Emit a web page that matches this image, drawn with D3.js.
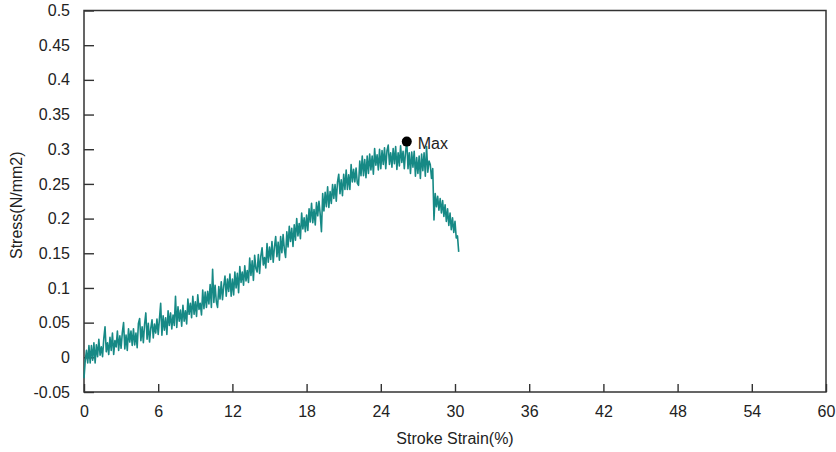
<!DOCTYPE html>
<html>
<head>
<meta charset="utf-8">
<script src="https://cdn.jsdelivr.net/npm/d3@7"></script>
<style>
  body { margin: 0; background: #fff; }
  svg text { font-family: "Liberation Sans", Arial, sans-serif; fill: #222; }
</style>
</head>
<body>
<div id="chart"></div>
<script>
// strain (%) samples
var strain = [
  0.0,0.1,0.2,0.3,0.4,0.5,0.6,0.7,0.8,0.9,
  1.0,1.1,1.2,1.3,1.4,1.5,1.6,1.7,1.8,1.9,
  2.0,2.1,2.2,2.3,2.4,2.5,2.6,2.7,2.8,2.9,
  3.0,3.1,3.2,3.3,3.4,3.5,3.6,3.7,3.8,3.9,
  4.0,4.1,4.2,4.3,4.4,4.5,4.6,4.7,4.8,4.9,
  5.0,5.1,5.2,5.3,5.4,5.5,5.6,5.7,5.8,5.9,
  6.0,6.1,6.2,6.3,6.4,6.5,6.6,6.7,6.8,6.9,
  7.0,7.1,7.2,7.3,7.4,7.5,7.6,7.7,7.8,7.9,
  8.0,8.1,8.2,8.3,8.4,8.5,8.6,8.7,8.8,8.9,
  9.0,9.1,9.2,9.3,9.4,9.5,9.6,9.7,9.8,9.9,
  10.0,10.1,10.2,10.3,10.4,10.5,10.6,10.7,10.8,10.9,
  11.0,11.1,11.2,11.3,11.4,11.5,11.6,11.7,11.8,11.9,
  12.0,12.1,12.2,12.3,12.4,12.5,12.6,12.7,12.8,12.9,
  13.0,13.1,13.2,13.3,13.4,13.5,13.6,13.7,13.8,13.9,
  14.0,14.1,14.2,14.3,14.4,14.5,14.6,14.7,14.8,14.9,
  15.0,15.1,15.2,15.3,15.4,15.5,15.6,15.7,15.8,15.9,
  16.0,16.1,16.2,16.3,16.4,16.5,16.6,16.7,16.8,16.9,
  17.0,17.1,17.2,17.3,17.4,17.5,17.6,17.7,17.8,17.9,
  18.0,18.1,18.2,18.3,18.4,18.5,18.6,18.7,18.8,18.9,
  19.0,19.1,19.2,19.3,19.4,19.5,19.6,19.7,19.8,19.9,
  20.0,20.1,20.2,20.3,20.4,20.5,20.6,20.7,20.8,20.9,
  21.0,21.1,21.2,21.3,21.4,21.5,21.6,21.7,21.8,21.9,
  22.0,22.1,22.2,22.3,22.4,22.5,22.6,22.7,22.8,22.9,
  23.0,23.1,23.2,23.3,23.4,23.5,23.6,23.7,23.8,23.9,
  24.0,24.1,24.2,24.3,24.4,24.5,24.6,24.7,24.8,24.9,
  25.0,25.1,25.2,25.3,25.4,25.5,25.6,25.7,25.8,25.9,
  26.0,26.1,26.2,26.3,26.4,26.5,26.6,26.7,26.8,26.9,
  27.0,27.1,27.2,27.3,27.4,27.5,27.6,27.7,27.8,27.9,
  28.0,28.1,28.2,28.3,28.4,28.5,28.6,28.7,28.8,28.9,
  29.0,29.1,29.2,29.3,29.4,29.5,29.6,29.7,29.8,29.9,
  30.0,30.1,30.2,30.3
];

// stress (N/mm2) at each strain sample
var stress = [
  -0.030,-0.005,0.010,-0.008,0.017,-0.008,0.017,-0.004,0.021,-0.008,
  0.018,0.001,0.026,0.003,0.015,0.001,0.027,0.044,0.008,0.021,
  0.004,0.029,0.010,0.035,0.004,0.024,0.015,0.038,0.010,0.031,
  0.013,0.036,0.050,0.012,0.032,0.010,0.041,0.022,0.038,0.017,
  0.041,0.018,0.035,0.014,0.049,0.056,0.024,0.044,0.021,0.048,
  0.064,0.026,0.049,0.022,0.042,0.054,0.028,0.048,0.035,0.055,
  0.033,0.055,0.078,0.032,0.060,0.039,0.057,0.033,0.067,0.046,
  0.064,0.041,0.061,0.046,0.088,0.043,0.073,0.052,0.068,0.045,
  0.075,0.052,0.067,0.048,0.084,0.062,0.078,0.057,0.088,0.062,
  0.080,0.059,0.090,0.069,0.078,0.061,0.097,0.070,0.094,0.072,
  0.095,0.077,0.105,0.072,0.127,0.079,0.104,0.080,0.072,0.102,
  0.084,0.109,0.083,0.103,0.117,0.088,0.113,0.095,0.120,0.088,
  0.113,0.090,0.123,0.100,0.121,0.093,0.131,0.108,0.123,0.104,
  0.132,0.110,0.125,0.108,0.143,0.118,0.139,0.111,0.147,0.128,
  0.123,0.148,0.121,0.146,0.158,0.133,0.144,0.129,0.164,0.137,
  0.159,0.141,0.167,0.137,0.159,0.174,0.145,0.166,0.140,0.174,
  0.151,0.177,0.156,0.144,0.181,0.159,0.189,0.167,0.186,0.160,
  0.191,0.169,0.200,0.175,0.193,0.171,0.208,0.185,0.201,0.181,
  0.205,0.183,0.214,0.195,0.222,0.194,0.213,0.191,0.223,0.204,
  0.225,0.206,0.181,0.236,0.211,0.238,0.217,0.246,0.216,0.239,
  0.222,0.249,0.229,0.249,0.225,0.253,0.264,0.236,0.256,0.233,
  0.264,0.242,0.270,0.242,0.263,0.242,0.278,0.253,0.271,0.253,
  0.273,0.251,0.248,0.283,0.262,0.290,0.262,0.285,0.259,0.290,
  0.265,0.293,0.270,0.290,0.264,0.301,0.277,0.292,0.270,0.300,
  0.272,0.298,0.278,0.302,0.272,0.298,0.306,0.278,0.295,0.274,
  0.301,0.279,0.304,0.271,0.295,0.276,0.305,0.281,0.297,0.272,
  0.296,0.311,0.272,0.295,0.265,0.296,0.274,0.297,0.261,0.288,
  0.265,0.290,0.258,0.293,0.269,0.295,0.261,0.304,0.267,0.283,
  0.278,0.258,0.272,0.198,0.236,0.217,0.232,0.212,0.229,0.208,
  0.226,0.203,0.220,0.196,0.214,0.190,0.208,0.184,0.201,0.180,
  0.196,0.172,0.175,0.152
];

var xTicks = [0, 6, 12, 18, 24, 30, 36, 42, 48, 54, 60];
var yTicks = [-0.05, 0, 0.05, 0.1, 0.15, 0.2, 0.25, 0.3, 0.35, 0.4, 0.45, 0.5];
var xTitle = "Stroke Strain(%)";
var yTitle = "Stress(N/mm2)";
var maxLabel = "Max";

var margin = {top: 10.5, right: 10, bottom: 60, left: 84},
    width = 836 - margin.left - margin.right,
    height = 452 - margin.top - margin.bottom;

var svg = d3.select("#chart")
  .append("svg")
    .attr("width", 836)
    .attr("height", 452)
  .append("g")
    .attr("transform", "translate(" + margin.left + "," + margin.top + ")");

var x = d3.scaleLinear().domain([0, 60]).range([0, width]);
var y = d3.scaleLinear().domain([-0.05, 0.5]).range([height, 0]);

// x axis, ticks pointing inward
var xa = svg.append("g")
  .attr("transform", "translate(0," + height + ")")
  .call(d3.axisBottom(x).tickValues(xTicks).tickSizeInner(-8).tickSizeOuter(0).tickPadding(14)
    .tickFormat(d3.format("d")));
xa.select(".domain").remove();
xa.selectAll("line").attr("stroke", "#333").attr("stroke-width", 1.4);
xa.selectAll("text").style("font-size", "16px").attr("fill", "#222");

// y axis, plain hyphen for the negative label
var ya = svg.append("g")
  .call(d3.axisLeft(y).tickValues(yTicks).tickSizeInner(-10).tickSizeOuter(0).tickPadding(14)
    .tickFormat(function(d) { return String(+d.toFixed(2)); }));
ya.select(".domain").remove();
ya.selectAll("line").attr("stroke", "#333").attr("stroke-width", 1.4);
ya.selectAll("text").style("font-size", "16px").attr("fill", "#222");

// frame
svg.append("rect")
  .attr("x", 0).attr("y", 0)
  .attr("width", width).attr("height", height)
  .attr("fill", "none")
  .attr("stroke", "#333")
  .attr("stroke-width", 1.5);

// data line
var pts = strain.map(function(s, i) { return {x: s, y: stress[i]}; });
var line = d3.line().x(function(d) { return x(d.x); }).y(function(d) { return y(d.y); });
svg.append("path")
  .datum(pts)
  .attr("fill", "none")
  .attr("stroke", "#168985")
  .attr("stroke-width", 1.6)
  .attr("stroke-linejoin", "round")
  .attr("d", line);

// max marker
var maxPt = pts[d3.maxIndex(pts, function(d) { return d.y; })];
svg.append("circle")
  .attr("cx", x(maxPt.x)).attr("cy", y(maxPt.y))
  .attr("r", 5)
  .attr("fill", "#000");
svg.append("text")
  .attr("x", x(maxPt.x) + 11).attr("y", y(maxPt.y) + 7)
  .style("font-size", "16px")
  .text(maxLabel);

// axis titles
svg.append("text")
  .attr("x", width / 2).attr("y", height + 52)
  .attr("text-anchor", "middle")
  .style("font-size", "16px")
  .text(xTitle);

svg.append("text")
  .attr("transform", "translate(" + (-62) + "," + (height / 2 + 4) + ") rotate(-90)")
  .attr("text-anchor", "middle")
  .style("font-size", "16px")
  .text(yTitle);
</script>
</body>
</html>
